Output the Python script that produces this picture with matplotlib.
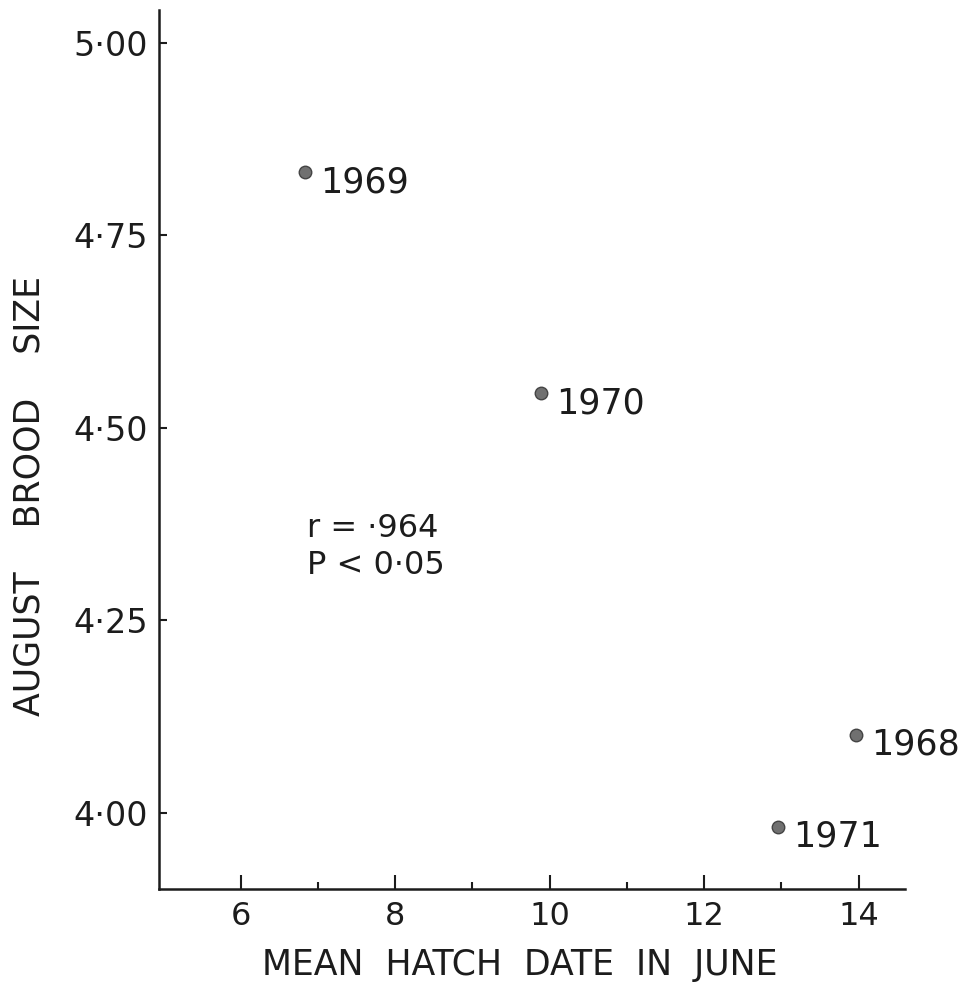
"""
August brood size vs mean hatch date in June
"""
import matplotlib
matplotlib.use('Agg')
import matplotlib.pyplot as plt
from matplotlib.ticker import FixedLocator

plt.rcParams['font.family'] = ['DejaVu Sans']

# data
years = ['1969', '1970', '1968', '1971']
hatch_date = [6.83, 9.89, 13.97, 12.96]
brood_size = [4.832, 4.545, 4.101, 3.982]

x_ticks = [6, 8, 10, 12, 14]
x_minor = [7, 9, 11, 13]
y_ticks = [4.00, 4.25, 4.50, 4.75, 5.00]
y_tick_labels = ['4·00', '4·25', '4·50', '4·75', '5·00']

ink = '#1c1c1c'

fig = plt.figure(figsize=(9.73, 9.86), dpi=100)
ax = fig.add_axes([0.1634, 0.0984, 0.930 - 0.1634, 0.9899 - 0.0984])

ax.plot(hatch_date, brood_size, linestyle='none', marker='o', markersize=9,
        markerfacecolor='#707070', markeredgecolor='#444444', markeredgewidth=1.0)

for yr, x, y in zip(years, hatch_date, brood_size):
    ax.annotate(yr, (x, y), xytext=(11, -7), textcoords='offset points',
                ha='left', va='center', fontsize=25, color=ink)

ax.text(6.86, 4.345, 'r = ·964\nP < 0·05', ha='left', va='center',
        fontsize=23, color=ink, linespacing=1.25)

ax.set_xlim(4.94, 14.6)
ax.set_ylim(3.901, 5.043)

ax.xaxis.set_major_locator(FixedLocator(x_ticks))
ax.xaxis.set_minor_locator(FixedLocator(x_minor))
ax.set_yticks(y_ticks)
ax.set_yticklabels(y_tick_labels)

for side in ['top', 'right']:
    ax.spines[side].set_visible(False)
for side in ['left', 'bottom']:
    ax.spines[side].set_linewidth(1.8)
    ax.spines[side].set_color(ink)

ax.tick_params(axis='x', which='major', direction='in', length=10, width=1.5,
               pad=9, labelsize=23, colors=ink)
ax.tick_params(axis='x', which='minor', direction='in', length=5, width=1.5, colors=ink)
ax.tick_params(axis='y', which='major', direction='in', length=6, width=1.5,
               pad=8, labelsize=24, colors=ink)

fig.text(520 / 973, 1 - 965 / 986, 'MEAN  HATCH  DATE  IN  JUNE', ha='center', va='center',
         fontsize=25, color=ink)
fig.text(30 / 973, 1 - 496 / 986, 'AUGUST    BROOD    SIZE', ha='center', va='center',
         rotation=90, fontsize=25, color=ink)

fig.savefig('out.png', dpi=100, facecolor='white')
plt.close()
